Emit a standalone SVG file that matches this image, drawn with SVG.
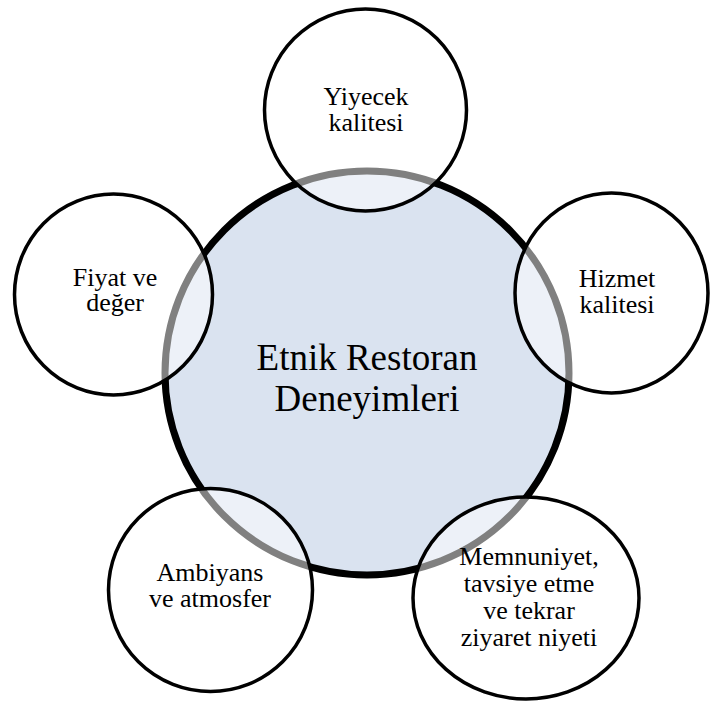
<svg xmlns="http://www.w3.org/2000/svg" width="710" height="703" viewBox="0 0 710 703">
<style>
.sat{fill:#ffffff;fill-opacity:0.5;stroke:#000;stroke-width:3.5}
.hub{fill:#dae3f0;stroke:#000;stroke-width:7}
text{font-family:"Liberation Serif","Times New Roman",serif;fill:#000;text-anchor:middle}
.s{font-size:26px}
.c{font-size:37px}
</style>
<rect width="710" height="703" fill="#fff"/>
<g id="hub">
<circle class="hub" cx="367" cy="373" r="202"/>
<text class="c" x="367" y="370">Etnik Restoran</text>
<text class="c" x="367" y="411">Deneyimleri</text>
</g>
<g id="connectors"></g>
<g id="n-yiyecek">
<circle class="sat" cx="365.5" cy="110" r="101"/>
<text class="s" x="366" y="105">Yiyecek</text>
<text class="s" x="366" y="131">kalitesi</text>
</g>
<g id="n-hizmet">
<ellipse class="sat" cx="611.5" cy="293" rx="96.5" ry="100"/>
<text class="s" x="617" y="287">Hizmet</text>
<text class="s" x="617" y="313">kalitesi</text>
</g>
<g id="n-memnuniyet">
<ellipse class="sat" cx="526" cy="598" rx="113" ry="101"/>
<text class="s" x="529" y="565">Memnuniyet,</text>
<text class="s" x="529" y="592">tavsiye etme</text>
<text class="s" x="529" y="619">ve tekrar</text>
<text class="s" x="529" y="646">ziyaret niyeti</text>
</g>
<g id="n-ambiyans">
<ellipse class="sat" cx="210.5" cy="590" rx="102" ry="101.5"/>
<text class="s" x="210" y="581">Ambiyans</text>
<text class="s" x="210" y="607">ve atmosfer</text>
</g>
<g id="n-fiyat">
<ellipse class="sat" cx="113.5" cy="294.5" rx="99" ry="100.5"/>
<text class="s" x="115" y="286">Fiyat ve</text>
<text class="s" x="115" y="311">değer</text>
</g>
</svg>
